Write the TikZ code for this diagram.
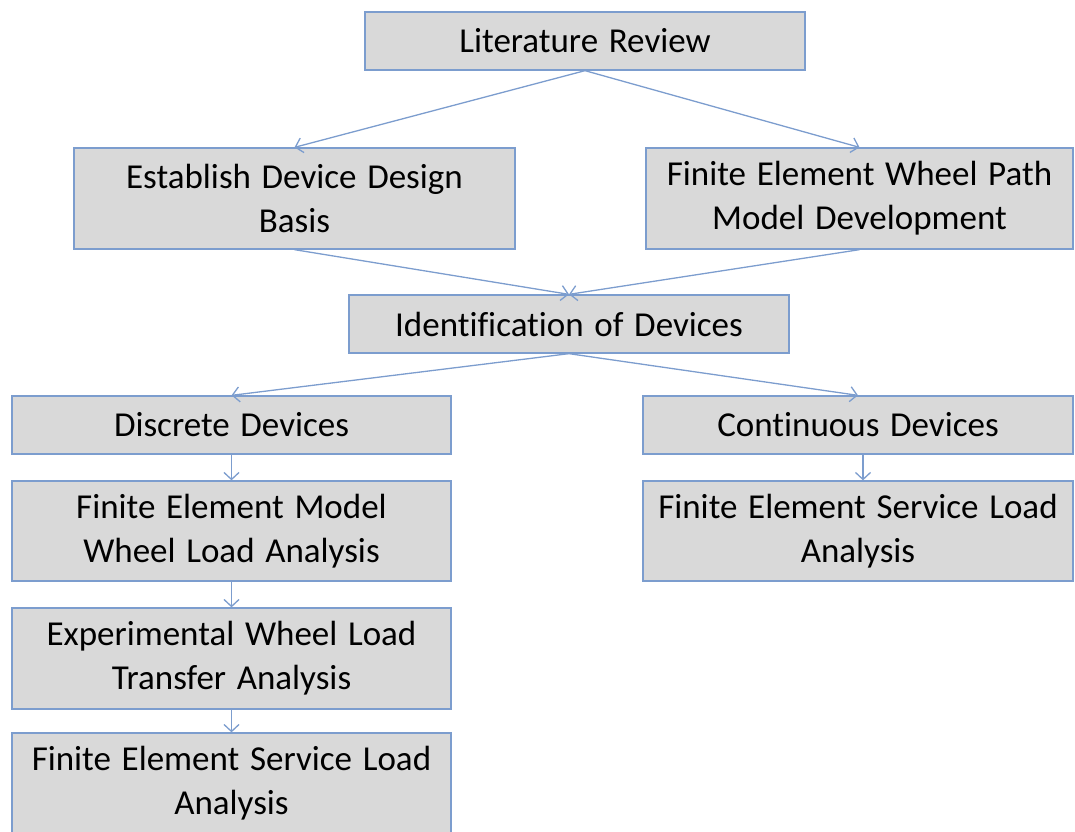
\documentclass[tikz,border=0pt]{standalone}
\usepackage{fontspec}
\setmainfont{Carlito}[Ligatures={NoCommon},WordSpace={1.35}]
\usetikzlibrary{arrows.meta}
\definecolor{boxfill}{RGB}{217,217,217}
\definecolor{boxline}{RGB}{124,157,206}
\tikzset{
  box/.style={draw=boxline, line width=1.3pt, fill=boxfill, inner sep=0pt,
    align=center, font=\fontsize{35}{44}\selectfont, text=black},
  conn/.style={draw=boxline, line width=1.3pt, -{Straight Barb[length=7pt,width=15pt,line width=1.3pt]}}
}
\begin{document}
\begin{tikzpicture}[x=1pt,y=-1pt]
\useasboundingbox (0,0) rectangle (1075,831);
\node[box, minimum width=440pt, minimum height=58pt] (lit) at (585,41) {Literature Review};
\node[box, minimum width=441pt, minimum height=101pt] (est) at (294.5,198.5) {Establish Device Design\\Basis};
\node[box, minimum width=427pt, minimum height=101pt] (few) at (859.5,198.5) {Finite Element Wheel Path\\Model Development};
\node[box, minimum width=440pt, minimum height=58pt] (ide) at (569,324) {Identification of Devices};
\node[box, minimum width=439pt, minimum height=58pt] (dis) at (231.5,425) {Discrete Devices};
\node[box, minimum width=430pt, minimum height=58pt] (con) at (858,425) {Continuous Devices};
\node[box, minimum width=439pt, minimum height=100pt] (fem) at (231.5,531) {Finite Element Model\\Wheel Load Analysis};
\node[box, minimum width=430pt, minimum height=100pt] (fsr) at (858,531) {Finite Element Service Load\\Analysis};
\node[box, minimum width=439pt, minimum height=101pt] (exp) at (231.5,658.5) {Experimental Wheel Load\\Transfer Analysis};
\node[box, minimum width=439pt, minimum height=101pt] (fsl) at (231.5,783.5) {Finite Element Service Load\\Analysis};
\draw[conn] (lit.south) -- (est.north);
\draw[conn] (lit.south) -- (few.north);
\draw[conn] (est.south) -- (ide.north);
\draw[conn] (few.south) -- (ide.north);
\draw[conn] (ide.south) -- (dis.north);
\draw[conn] (ide.south) -- (con.north);
\draw[conn] (dis.south) -- (fem.north);
\draw[conn] (fem.south) -- (exp.north);
\draw[conn] (exp.south) -- (fsl.north);
\draw[conn] ([xshift=5pt]con.south) -- ([xshift=5pt]fsr.north);
\end{tikzpicture}
\end{document}
